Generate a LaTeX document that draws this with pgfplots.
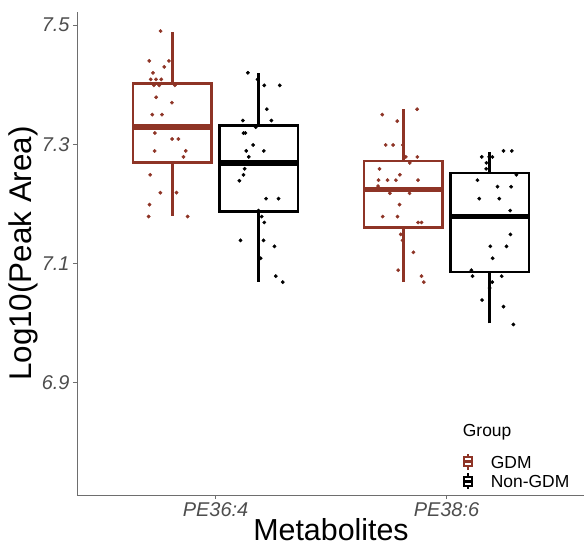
\documentclass[border=0pt]{standalone}
\usepackage{pgfplots}
\pgfplotsset{compat=1.18}
\usepackage{fontspec}
\setmainfont{Liberation Sans}
\definecolor{gdm}{RGB}{142,52,38}
\definecolor{tickgray}{RGB}{77,77,77}
\definecolor{axgray}{RGB}{110,110,110}

% one box: colour, x left, x centre, x right, lower whisker, Q1, median, Q3, upper whisker
\newcommand\statbox[9]{%
  \addplot[#1, line width=2.8bp, line join=miter] coordinates {(#2,#6)(#4,#6)(#4,#8)(#2,#8)} -- cycle;
  \addplot[#1, line width=2.8bp] coordinates {(#3,#8)(#3,#9)};
  \addplot[#1, line width=2.8bp] coordinates {(#3,#5)(#3,#6)};
  \addplot[#1, line width=5.5bp] coordinates {(#2,#7)(#4,#7)};
}

% legend key: a tiny boxplot glyph
\newcommand\boxkey[3]{%
  \begin{scope}[shift={(#2,#3)}, #1, line width=2bp]
    \draw (-4bp,-4.5bp) rectangle (4bp,4.5bp);
    \draw[line width=3bp] (-4bp,0) -- (4bp,0);
    \draw (0,4.5bp) -- (0,8bp);
    \draw (0,-4.5bp) -- (0,-8bp);
  \end{scope}}

\begin{document}
\begin{tikzpicture}
\begin{axis}[
  scale only axis, width=508bp, height=483bp,
  xmin=0.4, xmax=2.6, ymin=6.712, ymax=7.522,
  axis x line=bottom, axis y line=left,
  axis line style={-, axgray, line width=0.8pt},
  tick style={axgray, line width=0.8pt},
  tick align=outside, major tick length=4bp,
  xtick={1,2}, xticklabels={PE36:4,PE38:6},
  ytick={6.9,7.1,7.3,7.5},
  /pgf/number format/assume math mode=true,
  yticklabel style={/pgf/number format/.cd, fixed, precision=1, fixed zerofill},
  ticklabel style={font=\fontsize{20}{20}\selectfont\itshape, text=tickgray},
  xlabel={Metabolites}, ylabel={Log10(Peak Area)},
  xlabel style={font=\fontsize{30.5}{30.5}\selectfont, yshift=5bp},
  ylabel style={font=\fontsize{31.5}{31.5}\selectfont, yshift=-3bp},
  clip=false,
]
% boxes (whiskers without caps, as in ggplot)
\statbox{gdm}{0.6425}{0.8125}{0.9825}{7.180}{7.269}{7.329}{7.402}{7.489}
\statbox{black}{1.0175}{1.1875}{1.3575}{7.070}{7.187}{7.269}{7.331}{7.419}
\statbox{gdm}{1.6425}{1.8125}{1.9825}{7.069}{7.160}{7.224}{7.272}{7.359}
\statbox{black}{2.0175}{2.1875}{2.3575}{7.000}{7.086}{7.179}{7.252}{7.288}

% jittered points
\addplot[only marks, mark=*, mark size=1.7bp, gdm] coordinates {
(0.762,7.490)(0.713,7.440)(0.798,7.440)(0.778,7.430)(0.729,7.420)(0.719,7.409)(0.742,7.409)
(0.765,7.409)(0.733,7.399)(0.756,7.399)(0.824,7.399)(0.743,7.379)(0.811,7.370)(0.726,7.350)
(0.768,7.350)(0.737,7.319)(0.812,7.309)(0.839,7.309)(0.736,7.289)(0.871,7.289)(0.861,7.279)
(0.717,7.249)(0.761,7.219)(0.831,7.219)(0.714,7.199)(0.710,7.179)(0.879,7.179)
(1.873,7.359)(1.722,7.350)(1.787,7.339)(1.737,7.299)(1.769,7.299)(1.811,7.299)(1.824,7.279)
(1.874,7.279)(1.841,7.269)(1.710,7.259)(1.798,7.249)(1.706,7.240)(1.745,7.240)(1.781,7.240)
(1.877,7.240)(1.704,7.230)(1.755,7.218)(1.840,7.218)(1.797,7.199)(1.724,7.179)(1.788,7.179)
(1.877,7.169)(1.892,7.169)(1.802,7.149)(1.810,7.139)(1.857,7.119)(1.791,7.089)(1.892,7.079)
(1.902,7.069)
};
\addplot[only marks, mark=*, mark size=1.7bp, black] coordinates {
(1.140,7.420)(1.182,7.409)(1.211,7.399)(1.278,7.399)(1.222,7.359)(1.118,7.340)(1.242,7.340)
(1.121,7.319)(1.129,7.319)(1.174,7.329)(1.163,7.299)(1.133,7.289)(1.209,7.289)(1.144,7.279)
(1.126,7.259)(1.121,7.249)(1.103,7.239)(1.219,7.209)(1.273,7.209)(1.186,7.189)(1.200,7.179)
(1.211,7.169)(1.108,7.139)(1.208,7.139)(1.255,7.129)(1.195,7.109)(1.261,7.079)(1.291,7.069)
(2.247,7.289)(2.283,7.289)(2.153,7.279)(2.185,7.279)(2.199,7.279)(2.173,7.269)(2.172,7.259)
(2.303,7.249)(2.134,7.240)(2.221,7.229)(2.280,7.229)(2.142,7.209)(2.229,7.209)(2.276,7.189)
(2.277,7.149)(2.190,7.129)(2.260,7.129)(2.200,7.109)(2.108,7.089)(2.113,7.079)(2.239,7.079)
(2.198,7.069)(2.187,7.059)(2.154,7.039)(2.247,7.028)(2.290,6.998)
};
\end{axis}

% legend
\node[anchor=west, font=\fontsize{17.5}{18}\selectfont, inner sep=0] at (385.7bp,62.3bp) {Group};
\boxkey{gdm}{390.5bp}{33bp}
\boxkey{black}{390.5bp}{13.5bp}
\node[anchor=west, font=\fontsize{17.5}{18}\selectfont, inner sep=0] at (413.7bp,33bp) {GDM};
\node[anchor=west, font=\fontsize{17.5}{18}\selectfont, inner sep=0] at (413.7bp,13.5bp) {Non-GDM};

\pgfresetboundingbox
\path[use as bounding box] (-77bp,-51bp) rectangle (507bp,495bp);
\end{tikzpicture}
\end{document}
